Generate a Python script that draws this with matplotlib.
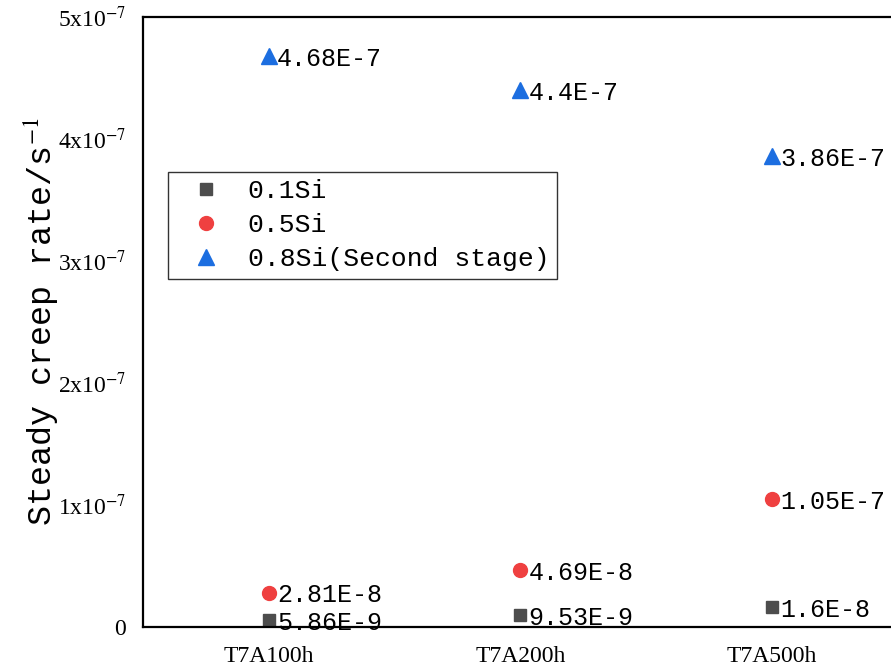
import matplotlib.pyplot as plt

plt.rcParams['font.family'] = ['Liberation Mono', 'DejaVu Sans Mono']
plt.rcParams['mathtext.fontset'] = 'stix'

# creep data
samples = ['T7A100h', 'T7A200h', 'T7A500h']
si01 = [5.86e-9, 9.53e-9, 1.6e-8]
si05 = [2.81e-8, 4.69e-8, 1.05e-7]
si08 = [4.68e-7, 4.4e-7, 3.86e-7]
y_ticks = [0, 1e-7, 2e-7, 3e-7, 4e-7, 5e-7]
y_ticklabels = ['0'] + [r'%dx10$^{-7}$' % i for i in range(1, 6)]


def fmt(v):
    s = '{:.3G}'.format(v)
    return s.replace('E-0', 'E-')


fig = plt.figure(figsize=(8.91, 6.67), dpi=100)
ax = fig.add_axes([143 / 891, 40 / 667, 754.5 / 891, 610 / 667])

x = range(len(samples))
series = [
    (si01, 's', '#4d4d4d', '0.1Si', 9),
    (si05, 'o', '#ef4040', '0.5Si', 10),
    (si08, '^', '#1c6ee0', '0.8Si(Second stage)', 11),
]
for vals, mk, col, lab, ms in series:
    ax.plot(x, vals, linestyle='none', marker=mk, color=col, markersize=ms, label=lab)
    for xi, v in zip(x, vals):
        ax.annotate(fmt(v), (xi, v), xytext=(6, -2), textcoords='offset points',
                    ha='left', va='center', fontsize=18)

ax.set_xlim(-0.5, 2.5)
ax.set_ylim(0, 5e-7)
ax.set_xticks(list(x))
ax.set_xticklabels(samples, fontsize=17, family='Liberation Serif')
ax.set_yticks(y_ticks)
ax.set_yticklabels(y_ticklabels, fontsize=17, family='Liberation Serif')
ax.tick_params(length=0, pad=12)
ax.tick_params(axis='x', pad=14)
for sp in ax.spines.values():
    sp.set_linewidth(1.6)

ax.set_ylabel(r'Steady creep rate/s$^{-1}$', fontsize=24, labelpad=-2)

leg = ax.legend(loc='upper left', bbox_to_anchor=(0.033, 0.746), fontsize=19,
                frameon=True, fancybox=False, edgecolor='black', borderaxespad=0,
                handletextpad=0.45, labelspacing=0.38, borderpad=0.28,
                handlelength=2.3)
leg.get_frame().set_linewidth(1.0)

fig.savefig('out.png', dpi=100)
